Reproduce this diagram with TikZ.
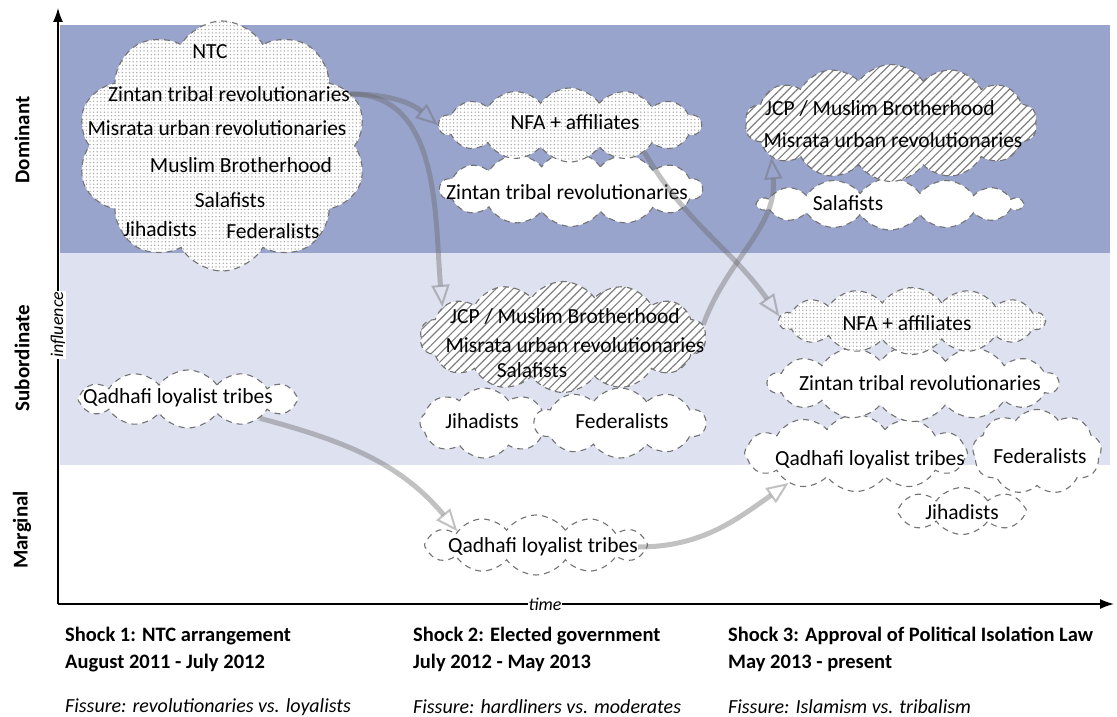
\documentclass[tikz,border=0pt]{standalone}
\usepackage{fontspec}
\setmainfont{Carlito}
\usetikzlibrary{shapes.symbols,patterns.meta,arrows.meta}

\definecolor{dombg}{RGB}{153,164,205}
\definecolor{subbg}{RGB}{222,225,240}

\tikzset{
  blob/.style={cloud, cloud ignores aspect, cloud puff arc=110, draw=black!55,
    dash pattern=on 6pt off 5pt, line width=1.1pt, fill=white, inner sep=0pt},
  dotblob/.style={blob, preaction={fill=white},
    pattern={Dots[radius=0.75pt,distance=3.6pt]}, pattern color=black!35},
  hatchblob/.style={blob, preaction={fill=white},
    pattern={Lines[angle=45,distance=6pt,line width=1.2pt]}, pattern color=black!50},
  lbl/.style={font=\fontsize{21.5}{25}\selectfont, inner sep=0pt},
  flow/.style={line width=5pt, draw=black!60, draw opacity=0.4,
    -{Triangle[open,length=22pt,width=18pt,line width=2pt]}},
  axis/.style={line width=1.5pt, -{Latex[length=14pt,width=10pt]}},
  level/.style={font=\bfseries\fontsize{21}{24}\selectfont, rotate=90},
  axislbl/.style={font=\itshape\fontsize{18}{20}\selectfont, fill=white, inner sep=1pt},
  shock/.style={anchor=west, font=\bfseries\fontsize{20.5}{24}\selectfont, inner sep=0pt},
  fissure/.style={anchor=west, font=\itshape\fontsize{20}{24}\selectfont, inner sep=0pt},
}

\begin{document}
\begin{tikzpicture}[x=1pt,y=-1pt]
  \useasboundingbox (0,0) rectangle (1117,717);
  \fill[white] (0,0) rectangle (1117,717);

  % bands
  \fill[dombg] (60,25) rectangle (1110,253);
  \fill[subbg] (60,253) rectangle (1110,465);

  % axes
  \coordinate(o) at (58,604);
  \coordinate(ytop) at (58,8);
  \coordinate(xend) at (1114,604);
  \draw[axis] (o) -- (ytop);
  \draw[axis] (o) -- (xend);
  \node[axislbl, rotate=90](infl) at (58,325) {influence};
  \node[axislbl](time) at (545,604) {time};

  \node[level](dom) at (22,140) {Dominant};
  \node[level](sub) at (22,358) {Subordinate};
  \node[level](marg) at (22,530) {Marginal};

  % shock 1
  \node[dotblob, cloud puffs=10, cloud puff arc=120, minimum width=290, minimum height=250](ntcA) at (222,146) {};
  \node[lbl](ntcT) at (210,52) {NTC};
  \node[lbl](zinA) at (229,94) {Zintan tribal revolutionaries};
  \node[lbl](misA) at (217,128) {Misrata urban revolutionaries};
  \node[lbl](mbA) at (241,165) {Muslim Brotherhood};
  \node[lbl](salA) at (230,200) {Salafists};
  \node[lbl](jihA) at (160,229) {Jihadists};
  \node[lbl](fedA) at (273,231) {Federalists};

  \node[blob, cloud puffs=12, minimum width=220, minimum height=58](qadA) at (188,399) {};
  \node[lbl](qadAT) at (178,398) {Qadhafi loyalist tribes};

  % shock 2
  \node[blob, cloud puffs=14, minimum width=262, minimum height=75](zinB) at (571,189) {};
  \node[lbl](zinBT) at (567,192) {Zintan tribal revolutionaries};
  \node[dotblob, cloud puffs=14, minimum width=262, minimum height=74](nfaB) at (570,125) {};
  \node[lbl](nfaBT) at (575,122) {NFA + affiliates};

  \node[blob, cloud puffs=8, minimum width=128, minimum height=70](jihB) at (484,423) {};
  \node[blob, cloud puffs=10, minimum width=171, minimum height=70](fedB) at (620,423) {};
  \node[lbl](jihBT) at (482,421) {Jihadists};
  \node[lbl](fedBT) at (622,421) {Federalists};
  \node[hatchblob, cloud puffs=14, minimum width=286, minimum height=111](jcpB) at (563,337) {};
  \node[lbl](jcpBT) at (565,316) {JCP / Muslim Brotherhood};
  \node[lbl](misBT) at (575,345) {Misrata urban revolutionaries};
  \node[lbl](salBT) at (532,370) {Salafists};

  \node[blob, cloud puffs=12, minimum width=223, minimum height=60](qadB) at (536,545) {};
  \node[lbl](qadBT) at (543,547) {Qadhafi loyalist tribes};

  % shock 3
  \node[blob, cloud puffs=14, minimum width=264, minimum height=52](salC) at (890,204) {};
  \node[lbl](salCT) at (848,203) {Salafists};
  \node[hatchblob, cloud puffs=14, minimum width=292, minimum height=117](jcpC) at (891,123) {};
  \node[lbl](jcpCT) at (880,108) {JCP / Muslim Brotherhood};
  \node[lbl](misCT) at (893,140) {Misrata urban revolutionaries};

  \node[blob, cloud puffs=8, minimum width=129, minimum height=47](jihC) at (962,511) {};
  \node[blob, cloud puffs=12, minimum width=223, minimum height=77](qadC) at (856,453) {};
  \node[blob, cloud puffs=9, minimum width=129, minimum height=85](fedC) at (1037,452) {};
  \node[blob, cloud puffs=14, minimum width=290, minimum height=77](zinC) at (913,383) {};
  \node[dotblob, cloud puffs=14, minimum width=265, minimum height=67](nfaC) at (912,321) {};
  \node[lbl](nfaCT) at (907,323) {NFA + affiliates};
  \node[lbl](zinCT) at (920,383) {Zintan tribal revolutionaries};
  \node[lbl](qadCT) at (870,460) {Qadhafi loyalist tribes};
  \node[lbl](fedCT) at (1040,456) {Federalists};
  \node[lbl](jihCT) at (962,512) {Jihadists};

  % shifts between shocks
  \draw[flow] (zinA.east) to[out=0,in=140] (nfaB.west);
  \draw[flow] (zinA.east) to[out=0,in=95] (jcpB.166);
  \draw[flow] (nfaB.-20) to[out=-60,in=125] (nfaC.178);
  \draw[flow] (jcpB.5) to[out=70,in=-85] (jcpC.196);
  \draw[flow] (qadA.-15) to[out=-15,in=130] (qadB.170);
  \draw[flow] (qadBT.east) to[out=0,in=215] (qadC.204);

  % shocks
  \node[shock](s1) at (65,636) {Shock 1: NTC arrangement};
  \node[shock](d1) at (65,663) {August 2011 - July 2012};
  \node[fissure](f1) at (65,707) {Fissure: revolutionaries vs. loyalists};
  \node[shock](s2) at (413,636) {Shock 2: Elected government};
  \node[shock](d2) at (413,663) {July 2012 - May 2013};
  \node[fissure](f2) at (413,707) {Fissure: hardliners vs. moderates};
  \node[shock](s3) at (728,636) {Shock 3: Approval of Political Isolation Law};
  \node[shock](d3) at (728,663) {May 2013 - present};
  \node[fissure](f3) at (728,707) {Fissure: Islamism vs. tribalism};
\end{tikzpicture}
\end{document}
